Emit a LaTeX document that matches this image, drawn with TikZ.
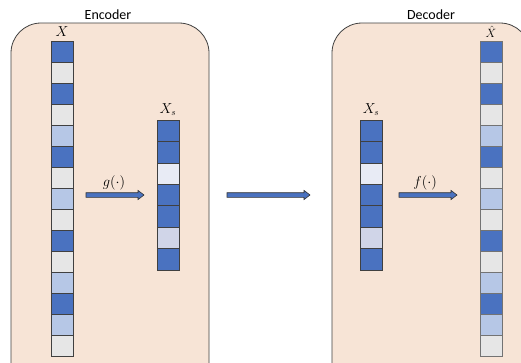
\documentclass[tikz,border=0pt]{standalone}
\usepackage{fontspec}
\setmainfont{Carlito}
\usetikzlibrary{calc}
\definecolor{cD}{HTML}{4A72C0}
\definecolor{cG}{HTML}{E6E6E6}
\definecolor{cL}{HTML}{B6C7E6}
\definecolor{cV}{HTML}{E8EBF5}
\definecolor{cP}{HTML}{D0D5E8}
\definecolor{boxfill}{HTML}{F7E4D6}
\definecolor{boxline}{HTML}{404040}
\tikzset{
  panel/.style={draw=boxline, line width=0.8pt, fill=boxfill, rounded corners=30pt},
  cell/.style={draw=black!75, line width=0.6pt, minimum width=22pt, inner sep=0pt, outer sep=0pt, anchor=north west},
  cellg/.style={cell, draw=black!55},
  arrowstyle/.style={draw=black!80, line width=0.6pt, fill=cD},
  title/.style={font=\fontsize{14}{16}\selectfont, inner sep=0pt},
  mlabel/.style={font=\fontsize{13.5}{16}\selectfont, inner sep=0pt, anchor=base}
}
\newcommand\blkarrow[2]{\draw[arrowstyle] ($(#1)+(0,-2.3)$) -- ($(#2)+(-6,-2.3)$) -- ($(#2)+(-6,-4.6)$) -- (#2) -- ($(#2)+(-6,4.6)$) -- ($(#2)+(-6,2.3)$) -- ($(#1)+(0,2.3)$) -- cycle;}
\begin{document}
\begin{tikzpicture}[x=1pt,y=-1pt]
\useasboundingbox (0,0) rectangle (521,362);
\clip (0,0) rectangle (521,362);
\fill[white] (0,0) rectangle (521,362);
% panels
\draw[panel] (11,23) rectangle (209,400);
\draw[panel] (332,23) rectangle (530,400);
\node[title] (enc) at (108,15) {Encoder};
\node[title] (dec) at (431,15) {Decoder};
% X column
\foreach \c [count=\i from 0] in {D,G,D,G,L,D,G,L,G,D,G,L,D,L,G}
  \node[cell, fill=c\c, minimum height=21pt] (x\i) at (51,{41+21*\i}) {};
% Xs encoder
\foreach \c [count=\i from 0] in {D,D,V,D,D,P,D}
  \node[cell, fill=c\c, minimum height=21.4pt] (s\i) at (157,{120+21.4*\i}) {};
% Xs decoder
\foreach \c [count=\i from 0] in {D,D,V,D,D,P,D}
  \node[cell, fill=c\c, minimum height=21.4pt] (t\i) at (360,{120+21.4*\i}) {};
% Xhat column
\foreach \c [count=\i from 0] in {D,G,D,G,L,D,G,L,G,D,G,L,D,L,G}
  \node[cellg, fill=c\c, minimum height=21pt] (h\i) at (480,{41+21*\i}) {};
% labels
\node[mlabel] (lx) at (62,36.5) {$X$};
\node[mlabel] (ls) at (168,113) {$X_s$};
\node[mlabel] (lt) at (371,113) {$X_s$};
\node[mlabel, font=\fontsize{12}{14}\selectfont] (lh) at (491,37.5) {$\hat{X}$};
% arrows
\coordinate (ga) at (86,195);
\coordinate (gb) at (144,195);
\coordinate (ma) at (227,195);
\coordinate (mb) at (310,195);
\coordinate (fa) at (399,195);
\coordinate (fb) at (457,195);
\blkarrow{ga}{gb}
\blkarrow{ma}{mb}
\blkarrow{fa}{fb}
\node[mlabel] (lg) at (114,186) {$g(\cdot)$};
\node[mlabel] (lf) at (425,186) {$f(\cdot)$};
\end{tikzpicture}
\end{document}
